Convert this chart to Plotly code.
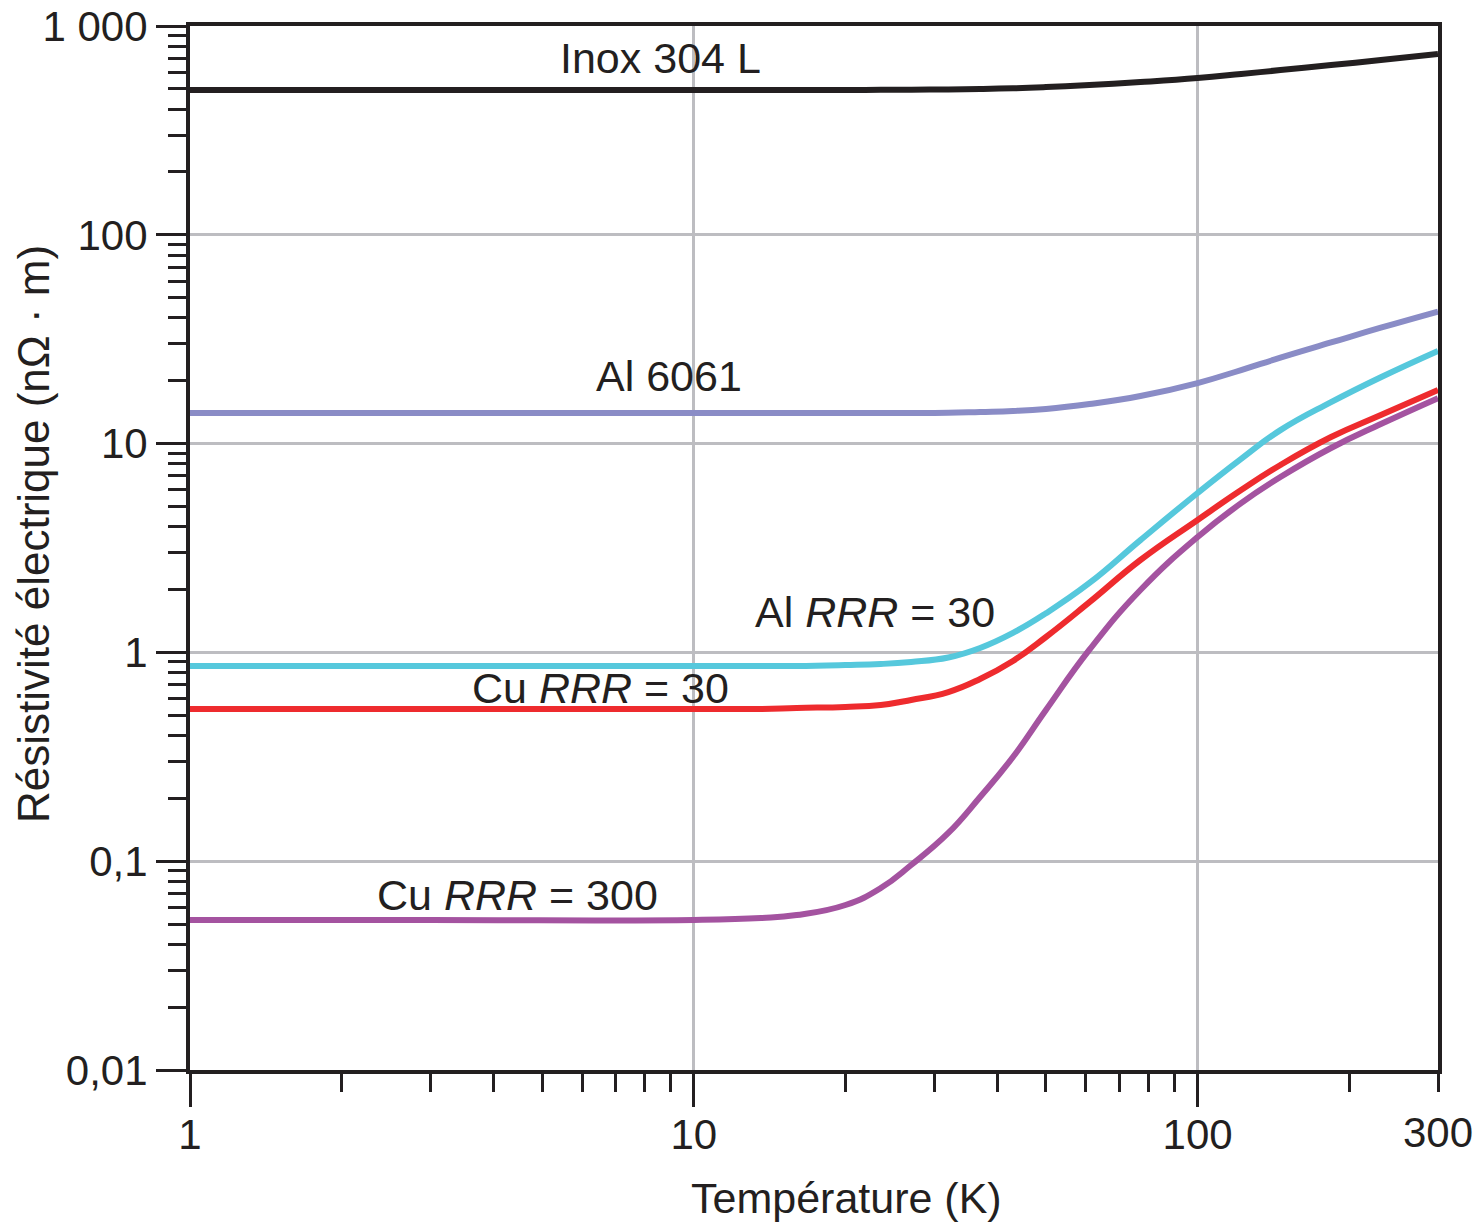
import math
import plotly.graph_objects as go

# ---------------- data ----------------
temperature_K = [1, 3, 10, 13.6, 16, 20, 23.5, 27, 32, 37, 43, 50, 61, 77, 100, 122, 146, 184, 231, 300]

rho_inox_304L = [494, 494, 494, 494, 494, 494, 494.5, 495, 497, 499, 503, 510, 522, 539, 563, 589, 615, 650, 687, 735]
rho_al_6061 = [14.0, 14.0, 14.0, 14.0, 14.0, 14.0, 14.0, 14.0, 14.05, 14.18, 14.33, 14.65, 15.47, 16.9, 19.5, 22.5, 25.8, 30.5, 35.9, 42.9]
rho_al_rrr30 = [0.861, 0.861, 0.861, 0.861, 0.861, 0.870, 0.880, 0.900, 0.945, 1.05, 1.24, 1.54, 2.15, 3.45, 5.80, 8.45, 11.6, 15.8, 20.8, 27.8]
rho_cu_rrr30 = [0.536, 0.536, 0.536, 0.536, 0.542, 0.548, 0.560, 0.592, 0.646, 0.746, 0.91, 1.185, 1.74, 2.77, 4.31, 5.99, 7.90, 10.75, 13.7, 18.06]
rho_cu_rrr300 = [0.0523, 0.0523, 0.0523, 0.0534, 0.0552, 0.0617, 0.0744, 0.0959, 0.1365, 0.203, 0.3155, 0.53, 1.03, 1.99, 3.57, 5.19, 6.92, 9.53, 12.4, 16.5]

series_names = ["Inox 304 L", "Al 6061", "Al <i>RRR</i> = 30", "Cu <i>RRR</i> = 30", "Cu <i>RRR</i> = 300"]
series_rho = [rho_inox_304L, rho_al_6061, rho_al_rrr30, rho_cu_rrr30, rho_cu_rrr300]

x_tick_vals = [1, 10, 100]
x_tick_text = ["1", "10", "100"]
x_end_val = 300
x_end_text = "300"
x_minor_vals = [2, 3, 4, 5, 6, 7, 8, 9, 20, 30, 40, 50, 60, 70, 80, 90, 200, 300]

y_tick_vals = [0.01, 0.1, 1, 10, 100, 1000]
y_tick_text = ["0,01", "0,1", "1", "10", "100", "1 000"]
y_minor_vals = [m * d for d in [0.01, 0.1, 1, 10, 100] for m in range(2, 10)]

x_title = "Température (K)"
y_title = "Résistivité électrique (nΩ · m)"

# ---------------- styles ----------------
colors = ["#231f20", "#8a8cc6", "#56c8dc", "#ee2b2e", "#a453a0"]
label_pos = [(0.3774, 0.9693), (0.3838, 0.6648), (0.5489, 0.4387), (0.3293, 0.3659), (0.2628, 0.1676)]
FONT = "Liberation Sans, Arial, sans-serif"
INK = "#231f20"
GRID = "#bdbdc1"

fig = go.Figure()
for name, rho, c in zip(series_names, series_rho, colors):
    fig.add_trace(go.Scatter(x=temperature_K, y=rho, mode="lines", name=name,
                             line=dict(color=c, width=6, shape="spline", smoothing=1.3),
                             showlegend=False, hoverinfo="skip"))

annotations = []
for name, (px, py) in zip(series_names, label_pos):
    annotations.append(dict(text=name, x=px, y=py, xref="paper", yref="paper",
                            xanchor="center", yanchor="middle", showarrow=False,
                            font=dict(family=FONT, size=43, color=INK)))
annotations.append(dict(text=x_end_text, x=math.log10(x_end_val), y=-0.0603, xref="x", yref="paper",
                        xanchor="center", yanchor="middle", showarrow=False,
                        font=dict(family=FONT, size=42, color=INK)))
annotations.append(dict(text=x_title, x=0.5264, y=-0.1230, xref="paper", yref="paper",
                        xanchor="center", yanchor="middle", showarrow=False,
                        font=dict(family=FONT, size=43, color=INK)))
annotations.append(dict(text=y_title, x=-0.1258, y=0.5134, xref="paper", yref="paper",
                        xanchor="center", yanchor="middle", showarrow=False, textangle=-90,
                        font=dict(family=FONT, size=44, color=INK)))

fig.update_layout(
    width=1480, height=1225, autosize=False,
    margin=dict(l=190, r=42, t=26, b=155, pad=0),
    paper_bgcolor="white", plot_bgcolor="white",
    annotations=annotations,
    font=dict(family=FONT, color=INK),
)
fig.update_xaxes(
    type="log", range=[0, math.log10(300)], automargin=False,
    tickmode="array", tickvals=x_tick_vals, ticktext=x_tick_text,
    ticks="outside", ticklen=33, tickwidth=3, tickcolor=INK,
    ticklabelstandoff=-8,
    tickfont=dict(family=FONT, size=42, color=INK),
    showline=True, linewidth=4, linecolor=INK, mirror=True,
    showgrid=True, gridcolor=GRID, gridwidth=3, zeroline=False,
    minor=dict(tickmode="array", tickvals=x_minor_vals, ticks="outside", ticklen=18,
               tickwidth=3, tickcolor=INK, showgrid=False),
)
fig.update_yaxes(
    type="log", range=[-2, 3], automargin=False,
    tickmode="array", tickvals=y_tick_vals, ticktext=y_tick_text,
    ticks="outside", ticklen=30, tickwidth=3, tickcolor=INK,
    tickfont=dict(family=FONT, size=42, color=INK),
    showline=True, linewidth=4, linecolor=INK, mirror=True,
    showgrid=True, gridcolor=GRID, gridwidth=3, zeroline=False,
    minor=dict(tickmode="array", tickvals=y_minor_vals, ticks="outside", ticklen=18,
               tickwidth=3, tickcolor=INK, showgrid=False),
)

fig.write_html("out.html")
